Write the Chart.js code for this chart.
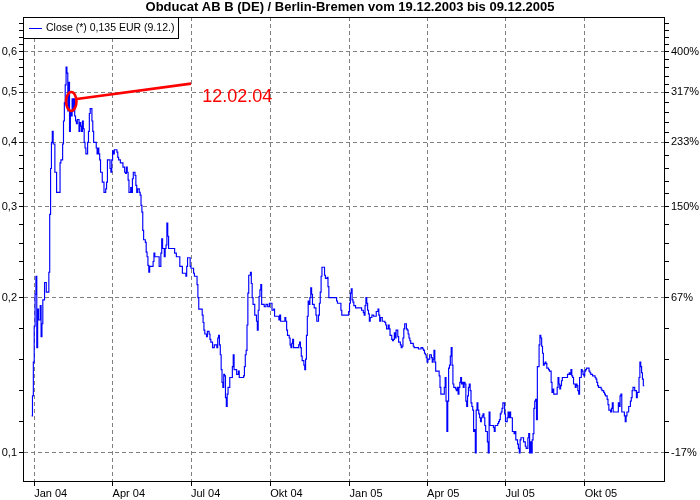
<!DOCTYPE html>
<html><head><meta charset="utf-8">
<script src="https://cdn.jsdelivr.net/npm/chart.js@4/dist/chart.umd.min.js"></script>
<style>html,body{margin:0;padding:0;background:#fff}canvas{display:block}</style>
</head><body>
<canvas id="c" width="700" height="500"></canvas>
<script>
const chartTitle = 'Obducat AB B (DE) / Berlin-Bremen vom 19.12.2003 bis 09.12.2005';
const seriesLabel = 'Close (*) 0,135 EUR (9.12.)';

const dates = [
'2003-12-29','2003-12-30','2003-12-31','2004-01-01','2004-01-02','2004-01-03','2004-01-04','2004-01-05','2004-01-06','2004-01-08',
'2004-01-09','2004-01-10','2004-01-11','2004-01-13','2004-01-15','2004-01-17','2004-01-18','2004-01-19','2004-01-20','2004-01-21',
'2004-01-22','2004-01-23','2004-01-25','2004-01-27','2004-01-30','2004-01-31','2004-02-01','2004-02-03','2004-02-04','2004-02-05',
'2004-02-06','2004-02-07','2004-02-08','2004-02-09','2004-02-10','2004-02-11','2004-02-12','2004-02-13','2004-02-14','2004-02-15',
'2004-02-16','2004-02-17','2004-02-18','2004-02-19','2004-02-20','2004-02-22','2004-02-23','2004-02-24','2004-02-25','2004-02-26',
'2004-02-27','2004-02-28','2004-02-29','2004-03-01','2004-03-03','2004-03-04','2004-03-05','2004-03-06','2004-03-08','2004-03-09',
'2004-03-10','2004-03-11','2004-03-13','2004-03-14','2004-03-15','2004-03-16','2004-03-17','2004-03-18','2004-03-19','2004-03-20',
'2004-03-22','2004-03-23','2004-03-24','2004-03-25','2004-03-26','2004-03-27','2004-03-29','2004-03-30','2004-03-31','2004-04-01',
'2004-04-02','2004-04-03','2004-04-06','2004-04-07','2004-04-08','2004-04-10','2004-04-13','2004-04-15','2004-04-16','2004-04-17',
'2004-04-18','2004-04-19','2004-04-20','2004-04-21','2004-04-22','2004-04-23','2004-04-24','2004-04-25','2004-04-27','2004-04-28',
'2004-04-29','2004-04-30','2004-05-02','2004-05-03','2004-05-04','2004-05-05','2004-05-06','2004-05-07','2004-05-09','2004-05-10',
'2004-05-11','2004-05-12','2004-05-13','2004-05-14','2004-05-16','2004-05-18','2004-05-19','2004-05-20','2004-05-23','2004-05-25',
'2004-05-26','2004-05-27','2004-05-28','2004-05-29','2004-05-31','2004-06-01','2004-06-02','2004-06-03','2004-06-04','2004-06-05',
'2004-06-11','2004-06-12','2004-06-14','2004-06-16','2004-06-18','2004-06-21','2004-06-24','2004-06-25','2004-06-26','2004-06-27',
'2004-06-30','2004-07-01','2004-07-04','2004-07-05','2004-07-07','2004-07-08','2004-07-09','2004-07-10','2004-07-13','2004-07-14',
'2004-07-15','2004-07-16','2004-07-17','2004-07-19','2004-07-20','2004-07-22','2004-07-23','2004-07-24','2004-07-26','2004-07-27',
'2004-07-28','2004-07-31','2004-08-01','2004-08-02','2004-08-03','2004-08-04','2004-08-05','2004-08-06','2004-08-07','2004-08-08',
'2004-08-09','2004-08-10','2004-08-11','2004-08-12','2004-08-13','2004-08-15','2004-08-17','2004-08-18','2004-08-19','2004-08-20',
'2004-08-22','2004-08-23','2004-08-25','2004-08-26','2004-08-29','2004-08-31','2004-09-01','2004-09-02','2004-09-03','2004-09-04',
'2004-09-05','2004-09-06','2004-09-08','2004-09-09','2004-09-10','2004-09-11','2004-09-13','2004-09-15','2004-09-16','2004-09-17',
'2004-09-18','2004-09-19','2004-09-20','2004-09-21','2004-09-24','2004-09-26','2004-09-28','2004-09-30','2004-10-03','2004-10-05',
'2004-10-06','2004-10-09','2004-10-11','2004-10-12','2004-10-13','2004-10-16','2004-10-18','2004-10-19','2004-10-20','2004-10-21',
'2004-10-23','2004-10-24','2004-10-25','2004-10-26','2004-10-27','2004-10-28','2004-11-02','2004-11-03','2004-11-04','2004-11-05',
'2004-11-06','2004-11-07','2004-11-09','2004-11-10','2004-11-11','2004-11-12','2004-11-13','2004-11-14','2004-11-15','2004-11-16',
'2004-11-17','2004-11-18','2004-11-19','2004-11-21','2004-11-23','2004-11-24','2004-11-25','2004-11-26','2004-11-27','2004-11-28',
'2004-11-29','2004-11-30','2004-12-02','2004-12-03','2004-12-04','2004-12-06','2004-12-07','2004-12-08','2004-12-16','2004-12-17',
'2004-12-18','2004-12-21','2004-12-22','2004-12-23','2004-12-30','2004-12-31','2005-01-01','2005-01-02','2005-01-03','2005-01-04',
'2005-01-05','2005-01-06','2005-01-08','2005-01-14','2005-01-15','2005-01-17','2005-01-18','2005-01-19','2005-01-20','2005-01-21',
'2005-01-22','2005-01-23','2005-01-24','2005-01-25','2005-01-27','2005-01-29','2005-01-31','2005-02-01','2005-02-03','2005-02-04',
'2005-02-05','2005-02-06','2005-02-08','2005-02-11','2005-02-12','2005-02-13','2005-02-15','2005-02-16','2005-02-17','2005-02-19',
'2005-02-20','2005-02-21','2005-02-22','2005-02-23','2005-02-24','2005-02-26','2005-02-27','2005-03-01','2005-03-02','2005-03-03',
'2005-03-04','2005-03-05','2005-03-06','2005-03-08','2005-03-09','2005-03-10','2005-03-11','2005-03-12','2005-03-13','2005-03-16',
'2005-03-17','2005-03-22','2005-03-25','2005-03-27','2005-03-28','2005-03-29','2005-03-30','2005-03-31','2005-04-01','2005-04-02',
'2005-04-03','2005-04-04','2005-04-06','2005-04-07','2005-04-08','2005-04-09','2005-04-10','2005-04-11','2005-04-14','2005-04-15',
'2005-04-16','2005-04-17','2005-04-20','2005-04-21','2005-04-22','2005-04-23','2005-04-24','2005-04-25','2005-04-26','2005-04-27',
'2005-04-28','2005-04-29','2005-04-30','2005-05-01','2005-05-02','2005-05-03','2005-05-04','2005-05-05','2005-05-06','2005-05-07',
'2005-05-08','2005-05-09','2005-05-10','2005-05-11','2005-05-12','2005-05-13','2005-05-14','2005-05-15','2005-05-16','2005-05-17',
'2005-05-18','2005-05-19','2005-05-20','2005-05-21','2005-05-22','2005-05-23','2005-05-24','2005-05-25','2005-05-26','2005-05-27',
'2005-05-28','2005-05-29','2005-05-30','2005-05-31','2005-06-01','2005-06-02','2005-06-03','2005-06-04','2005-06-05','2005-06-06',
'2005-06-07','2005-06-08','2005-06-09','2005-06-10','2005-06-11','2005-06-12','2005-06-13','2005-06-16','2005-06-17','2005-06-18',
'2005-06-19','2005-06-22','2005-06-23','2005-06-24','2005-06-25','2005-06-26','2005-06-27','2005-06-28','2005-06-30','2005-07-01',
'2005-07-02','2005-07-03','2005-07-04','2005-07-05','2005-07-06','2005-07-07','2005-07-09','2005-07-11','2005-07-12','2005-07-13',
'2005-07-15','2005-07-16','2005-07-17','2005-07-18','2005-07-19','2005-07-22','2005-07-24','2005-07-25','2005-07-27','2005-07-28',
'2005-07-29','2005-07-30','2005-07-31','2005-08-01','2005-08-02','2005-08-03','2005-08-04','2005-08-05','2005-08-06','2005-08-07',
'2005-08-09','2005-08-10','2005-08-11','2005-08-12','2005-08-13','2005-08-14','2005-08-15','2005-08-16','2005-08-17','2005-08-18',
'2005-08-20','2005-08-21','2005-08-23','2005-08-24','2005-08-25','2005-08-26','2005-08-28','2005-08-30','2005-08-31','2005-09-01',
'2005-09-02','2005-09-03','2005-09-04','2005-09-05','2005-09-10','2005-09-11','2005-09-13','2005-09-14','2005-09-15','2005-09-16',
'2005-09-17','2005-09-18','2005-09-20','2005-09-21','2005-09-22','2005-09-23','2005-09-24','2005-09-25','2005-09-27','2005-09-28',
'2005-09-29','2005-09-30','2005-10-01','2005-10-02','2005-10-03','2005-10-05','2005-10-06','2005-10-07','2005-10-08','2005-10-10',
'2005-10-12','2005-10-13','2005-10-14','2005-10-15','2005-10-16','2005-10-17','2005-10-19','2005-10-20','2005-10-21','2005-10-22',
'2005-10-23','2005-10-24','2005-10-25','2005-10-27','2005-10-28','2005-10-29','2005-10-31','2005-11-01','2005-11-02','2005-11-03',
'2005-11-08','2005-11-09','2005-11-10','2005-11-11','2005-11-12','2005-11-13','2005-11-15','2005-11-16','2005-11-17','2005-11-18',
'2005-11-19','2005-11-21','2005-11-23','2005-11-24','2005-11-25','2005-11-26','2005-11-27','2005-11-28','2005-11-30','2005-12-01',
'2005-12-02','2005-12-03','2005-12-04','2005-12-05','2005-12-06','2005-12-07','2005-12-08','2005-12-09'
];

const closes = [
0.118,0.129,0.150,0.176,0.203,0.220,0.160,0.190,0.181,0.193,
0.168,0.178,0.198,0.214,0.205,0.205,0.224,0.290,0.356,0.400,
0.420,0.397,0.350,0.320,0.320,0.365,0.370,0.397,0.440,0.477,
0.517,0.560,0.545,0.460,0.523,0.420,0.460,0.450,0.486,0.460,
0.486,0.450,0.440,0.435,0.443,0.420,0.437,0.430,0.420,0.440,
0.425,0.400,0.390,0.380,0.400,0.420,0.455,0.465,0.440,0.420,
0.400,0.400,0.390,0.380,0.390,0.380,0.370,0.350,0.350,0.335,
0.320,0.320,0.325,0.335,0.370,0.370,0.356,0.350,0.370,0.385,
0.380,0.387,0.383,0.374,0.370,0.365,0.358,0.350,0.348,0.358,
0.350,0.338,0.320,0.320,0.327,0.320,0.340,0.350,0.345,0.330,
0.320,0.325,0.320,0.316,0.302,0.293,0.270,0.259,0.256,0.245,
0.240,0.231,0.224,0.230,0.230,0.235,0.244,0.240,0.240,0.230,
0.230,0.244,0.260,0.249,0.240,0.249,0.253,0.279,0.263,0.249,
0.249,0.244,0.240,0.240,0.230,0.223,0.223,0.220,0.230,0.239,
0.230,0.228,0.223,0.220,0.220,0.212,0.200,0.190,0.190,0.185,
0.179,0.173,0.170,0.168,0.172,0.170,0.166,0.164,0.160,0.160,
0.162,0.160,0.167,0.169,0.162,0.155,0.145,0.137,0.134,0.142,
0.141,0.128,0.123,0.130,0.134,0.140,0.140,0.147,0.155,0.145,
0.145,0.142,0.144,0.140,0.140,0.141,0.147,0.155,0.158,0.177,
0.204,0.221,0.224,0.213,0.200,0.194,0.185,0.180,0.173,0.189,
0.201,0.207,0.212,0.194,0.192,0.194,0.192,0.195,0.189,0.190,
0.184,0.184,0.181,0.185,0.180,0.180,0.183,0.180,0.173,0.169,
0.167,0.162,0.160,0.163,0.166,0.160,0.160,0.162,0.164,0.160,
0.154,0.151,0.148,0.145,0.152,0.169,0.184,0.197,0.194,0.200,
0.209,0.203,0.194,0.191,0.185,0.180,0.180,0.185,0.195,0.205,
0.220,0.229,0.229,0.221,0.218,0.219,0.210,0.200,0.200,0.197,
0.195,0.195,0.189,0.185,0.185,0.188,0.195,0.204,0.208,0.198,
0.196,0.193,0.191,0.191,0.189,0.187,0.185,0.193,0.200,0.195,
0.189,0.186,0.180,0.183,0.185,0.184,0.184,0.188,0.190,0.185,
0.180,0.183,0.180,0.179,0.177,0.174,0.177,0.174,0.169,0.166,
0.165,0.166,0.171,0.167,0.173,0.168,0.164,0.162,0.160,0.161,
0.167,0.174,0.178,0.174,0.173,0.170,0.167,0.165,0.163,0.161,
0.160,0.159,0.160,0.159,0.158,0.156,0.155,0.153,0.150,0.152,
0.152,0.155,0.153,0.150,0.152,0.158,0.150,0.144,0.144,0.141,
0.134,0.130,0.130,0.134,0.140,0.126,0.110,0.126,0.146,0.148,
0.154,0.160,0.148,0.136,0.134,0.134,0.133,0.132,0.134,0.130,
0.134,0.137,0.140,0.136,0.137,0.134,0.137,0.136,0.126,0.123,
0.129,0.134,0.136,0.132,0.125,0.123,0.121,0.110,0.111,0.100,
0.121,0.125,0.121,0.119,0.117,0.115,0.117,0.118,0.119,0.117,
0.113,0.110,0.110,0.105,0.100,0.120,0.113,0.113,0.112,0.110,
0.113,0.114,0.115,0.116,0.119,0.120,0.122,0.125,0.119,0.115,
0.115,0.117,0.120,0.117,0.120,0.117,0.110,0.109,0.110,0.106,
0.104,0.102,0.100,0.106,0.107,0.105,0.103,0.102,0.107,0.109,
0.100,0.105,0.100,0.106,0.109,0.122,0.126,0.127,0.116,0.147,
0.162,0.169,0.167,0.161,0.156,0.148,0.149,0.150,0.149,0.146,
0.145,0.144,0.137,0.131,0.133,0.130,0.130,0.134,0.140,0.136,
0.133,0.135,0.138,0.140,0.140,0.142,0.143,0.142,0.145,0.141,
0.140,0.136,0.134,0.136,0.135,0.132,0.130,0.140,0.145,0.144,
0.142,0.141,0.144,0.145,0.146,0.146,0.144,0.143,0.142,0.141,
0.141,0.140,0.139,0.137,0.135,0.134,0.134,0.133,0.132,0.132,
0.131,0.130,0.129,0.127,0.124,0.121,0.120,0.122,0.125,0.120,
0.120,0.125,0.123,0.129,0.130,0.120,0.120,0.118,0.115,0.118,
0.120,0.123,0.126,0.128,0.132,0.134,0.134,0.132,0.128,0.131,
0.131,0.140,0.150,0.147,0.143,0.139,0.135,0.135
];

const xTickDates = ['2004-01-01','2004-04-01','2004-07-01','2004-10-01','2005-01-01','2005-04-01','2005-07-01','2005-10-01'];
const xTickLabels = ['Jan 04','Apr 04','Jul 04','Okt 04','Jan 05','Apr 05','Jul 05','Okt 05'];
const xRange = ['2003-12-19','2006-01-01'];

const yTickValues = [0.1,0.2,0.3,0.4,0.5,0.6];
const yTickLabels = ['0,1','0,2','0,3','0,4','0,5','0,6'];
const pctTickLabels = ['-17%','67%','150%','233%','317%','400%'];
const yRange = [0.0882, 0.70];

const noteDates = ['2004-02-13','2004-07-01','2004-07-14'];
const noteValues = [0.48, 0.52, 0.48];
const noteText = '12.02.04';

const FONT = "'Liberation Sans', Arial, sans-serif";
const toDay = s => Date.UTC(+s.slice(0,4), +s.slice(5,7)-1, +s.slice(8,10)) / 86400000;

// major ticks + 4 minor ticks (equal pixel spacing) per interval
const allY = [];
const majorsExt = yTickValues.concat([yRange[1]]);
for (let i = 0; i < majorsExt.length - 1; i++) {
  const a = majorsExt[i], b = majorsExt[i+1];
  allY.push(a);
  for (let k = 1; k < 5; k++) allY.push(a * Math.pow(b / a, k / 5));
}
const majorIndex = v => yTickValues.findIndex(m => Math.abs(m - v) < 1e-9);

const overlay = {
  id: 'overlay',
  afterDatasetsDraw(chart) {
    const {ctx, chartArea: ca} = chart;
    const xs = chart.scales.x, ys = chart.scales.y;
    ctx.save();
    // annotation
    const cx = xs.getPixelForValue(toDay(noteDates[0])), cy = ys.getPixelForValue(noteValues[0]);
    const ex = xs.getPixelForValue(toDay(noteDates[1])), ey = ys.getPixelForValue(noteValues[1]);
    const tx = xs.getPixelForValue(toDay(noteDates[2])), ty = ys.getPixelForValue(noteValues[2]);
    ctx.strokeStyle = '#ff0000';
    ctx.lineWidth = 2.6;
    ctx.beginPath(); ctx.ellipse(cx, cy, 5.2, 9.5, 0, 0, Math.PI * 2); ctx.stroke();
    ctx.lineWidth = 2.7;
    ctx.beginPath(); ctx.moveTo(cx + 5.5, cy - 2.5); ctx.lineTo(ex, ey); ctx.stroke();
    ctx.fillStyle = '#ff0000';
    ctx.font = '18px ' + FONT;
    ctx.textBaseline = 'alphabetic'; ctx.textAlign = 'left';
    ctx.fillText(noteText, tx, ty);
    // frame
    ctx.strokeStyle = '#000'; ctx.lineWidth = 1;
    ctx.strokeRect(Math.round(ca.left) + 0.5, Math.round(ca.top) + 0.5,
                   Math.round(ca.right) - Math.round(ca.left), Math.round(ca.bottom) - Math.round(ca.top));
    // legend box
    const L = Math.round(ca.left), T = Math.round(ca.top);
    ctx.font = '10.5px ' + FONT;
    const tw = ctx.measureText(seriesLabel).width;
    const w = Math.round(23 + tw + 4), h = 21;
    ctx.fillStyle = '#fff'; ctx.fillRect(L, T, w, h);
    ctx.strokeStyle = '#000'; ctx.strokeRect(L + 0.5, T + 0.5, w, h);
    ctx.strokeStyle = chart.data.datasets[0].borderColor;
    ctx.beginPath(); ctx.moveTo(L + 6, T + 11.5); ctx.lineTo(L + 19, T + 11.5); ctx.stroke();
    ctx.fillStyle = '#000'; ctx.textBaseline = 'middle';
    ctx.fillText(seriesLabel, L + 23, T + 11.5);
    ctx.restore();
  }
};

new Chart(document.getElementById('c'), {
  type: 'line',
  data: {
    datasets: [{
      label: seriesLabel,
      data: dates.map((d, i) => ({x: toDay(d), y: closes[i]})),
      borderColor: '#0000ff',
      borderWidth: 1.15,
      pointRadius: 0,
      stepped: true,
      fill: false,
      xAxisID: 'x', yAxisID: 'y'
    }]
  },
  options: {
    responsive: false,
    animation: false,
    events: [],
    layout: {padding: 0},
    plugins: {
      legend: {display: false},
      tooltip: {enabled: false},
      title: {
        display: true, text: chartTitle, color: '#000',
        font: {family: FONT, size: 13, weight: 'bold', lineHeight: '14px'},
        padding: {top: 0, bottom: 3}
      }
    },
    scales: {
      x: {
        type: 'linear', position: 'bottom', bounds: 'data',
        min: toDay(xRange[0]), max: toDay(xRange[1]),
        afterBuildTicks: s => { s.ticks = xTickDates.map(d => ({value: toDay(d)})); },
        afterFit: s => { s.height = 19; },
        ticks: {autoSkip: false, maxRotation: 0, minRotation: 0, align: 'start', padding: 1,
                color: '#000', font: {family: FONT, size: 11},
                callback: (v, i) => xTickLabels[i]},
        grid: {color: '#808080', tickColor: '#000', tickLength: 5, lineWidth: 1},
        border: {color: '#000', width: 1, dash: [4, 3]}
      },
      y: {
        type: 'logarithmic', position: 'left',
        min: yRange[0], max: yRange[1],
        afterBuildTicks: s => { s.ticks = allY.map(v => ({value: v})); },
        afterFit: s => { s.width = 23; },
        ticks: {autoSkip: false, padding: 2, color: '#000', font: {family: FONT, size: 11},
                callback: v => { const k = majorIndex(v); return k >= 0 ? yTickLabels[k] : ''; }},
        grid: {color: c => (c.tick && majorIndex(c.tick.value) >= 0) ? '#808080' : 'rgba(0,0,0,0)',
               tickColor: '#000', tickLength: 4, lineWidth: 1},
        border: {color: '#000', width: 1, dash: [4, 3]}
      },
      y2: {
        type: 'logarithmic', position: 'right',
        min: yRange[0], max: yRange[1],
        afterBuildTicks: s => { s.ticks = allY.map(v => ({value: v})); },
        afterFit: s => { s.width = 36; },
        ticks: {autoSkip: false, padding: 2, color: '#000', font: {family: FONT, size: 11},
                callback: v => { const k = majorIndex(v); return k >= 0 ? pctTickLabels[k] : ''; }},
        grid: {drawOnChartArea: false, color: '#000', tickColor: '#000', tickLength: 5, lineWidth: 1},
        border: {color: '#000', width: 1}
      }
    }
  },
  plugins: [overlay]
});
</script>
</body></html>
